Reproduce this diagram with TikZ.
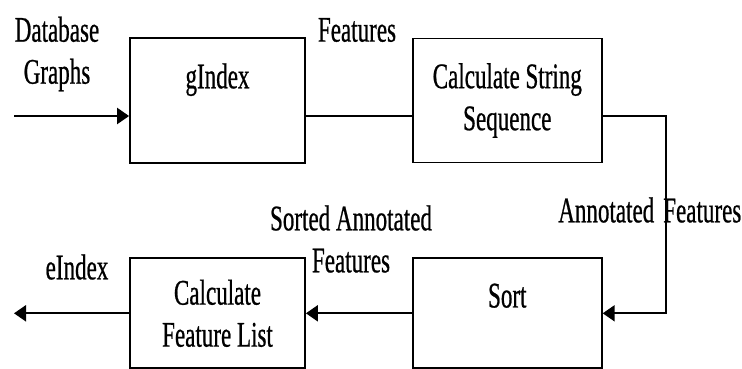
\documentclass[tikz,border=0pt]{standalone}
\usepackage{fontspec}
\setmainfont{Liberation Serif}[FakeStretch=0.64,FakeBold=0.6]
\usetikzlibrary{arrows.meta,positioning}

\begin{document}
\begin{tikzpicture}[
		x = 1pt, y = -1pt, % pixel units, y going down
		> = {Triangle[length=12pt,width=16pt]}, % arrow head style
		font = \fontsize{36}{42}\selectfont
	]
	
	\tikzstyle{block}=[
	draw = black,
	line width = 1.8pt,
	fill = white,
	align = center,
	inner sep = 0pt
	]
	\tikzstyle{flow}=[draw = black, line width = 2.2pt]
	\tikzstyle{lbl}=[align = center, inner sep = 0pt]
	
	\useasboundingbox (0,0) rectangle (742,368);
	
	\node[block, minimum width = 175pt, minimum height = 125pt,
		label = {[lbl, anchor = north, yshift = -26pt]north:gIndex}] (gindex) at (217.5,100.5) {};
	\node[block, minimum width = 189pt, minimum height = 124pt, right = 106pt of gindex] (calcstr) {Calculate String\\Sequence};
	\node[block, minimum width = 189pt, minimum height = 110pt, below = 94pt of calcstr,
		label = {[lbl, anchor = north, yshift = -26pt]north:Sort}] (sort) {};
	\node[block, minimum width = 175pt, minimum height = 110pt, left = 106pt of sort] (featlist) {Calculate\\Feature List};
	
	\node[lbl] (dbgraphs) at (57,54) {Database\\Graphs};
	\node[lbl] (feats) at (357,30) {Features};
	\node[lbl, anchor = east] (annfeats) at (741.5,210) {Annotated\hspace{9pt}Features};
	\node[lbl] (sortfeats) at (351,239) {Sorted Annotated\\Features};
	\node[lbl] (eindex) at (77,267) {eIndex};
	
	\coordinate (dbin) at (14,116);
	\coordinate (eout) at (14,312);
	
	\draw[flow, ->] (dbin) -- (dbin -| gindex.west);
	\draw[flow] (gindex.east |- dbin) -- (calcstr.west |- dbin);
	\draw[flow, ->] (calcstr.east |- dbin) -- ++(63,0) |- (sort.east);
	\draw[flow, ->] (sort.west) -- (featlist.east);
	\draw[flow, ->] (featlist.west) -- (featlist.west -| eout);
\end{tikzpicture}
\end{document}
